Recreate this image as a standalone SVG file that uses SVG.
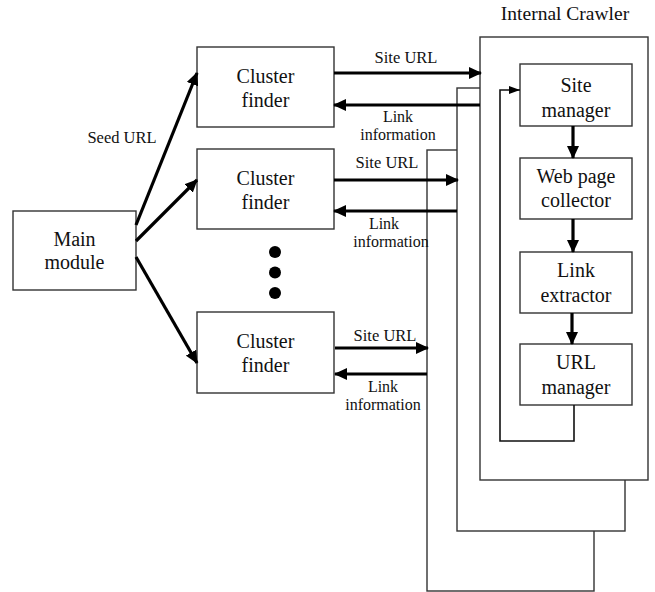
<svg xmlns="http://www.w3.org/2000/svg" width="655" height="592" viewBox="0 0 655 592">
  <style>
    .box { fill: #fff; stroke: #333; stroke-width: 1.4; }
    .frame { fill: none; stroke: #333; stroke-width: 1.4; }
    text { font-family: 'Liberation Serif', 'DejaVu Serif', 'Times New Roman', serif; fill: #111; text-anchor: middle; }
    .big { font-size: 20px; }
    .small { font-size: 16px; }
    .arrow { stroke: #000; stroke-width: 3.2; fill: none; }
    .thin { stroke: #111; stroke-width: 1.6; fill: none; }
  </style>
  <defs>
    <marker id="head" markerUnits="userSpaceOnUse" markerWidth="14" markerHeight="12" refX="12" refY="6" orient="auto">
      <path d="M0,0 L13,6 L0,12 Z" fill="#000"/>
    </marker>
    <marker id="headSmall" markerUnits="userSpaceOnUse" markerWidth="12" markerHeight="10" refX="11" refY="4" orient="auto">
      <path d="M0,0 L11,4 L0,8 Z" fill="#000"/>
    </marker>
  </defs>
  <rect width="655" height="592" fill="#fff"/>

  <!-- stacked crawler instances, back to front -->
  <g id="crawler-back">
    <rect class="frame" x="427" y="150" width="167" height="441" />
  </g>
  <g id="crawler-middle">
    <rect class="box" x="457" y="88" width="168" height="443" />
  </g>
  <g id="crawler-front">
    <rect class="box" x="480" y="37" width="168" height="443" />
    <text x="565" y="20" font-size="19.5">Internal Crawler</text>
  </g>

  <g id="main-module">
    <rect class="box" x="13" y="211" width="123" height="79" />
    <text class="big" x="74.5" y="246">Main</text>
    <text class="big" x="74.5" y="269">module</text>
  </g>

  <g id="cluster-finder-1">
    <rect class="box" x="197" y="47" width="137" height="80" />
    <text class="big" x="265.5" y="83">Cluster</text>
    <text class="big" x="265.5" y="107">finder</text>
  </g>
  <g id="cluster-finder-2">
    <rect class="box" x="197" y="149" width="137" height="80" />
    <text class="big" x="265.5" y="185">Cluster</text>
    <text class="big" x="265.5" y="209">finder</text>
  </g>
  <g id="cluster-finder-3">
    <rect class="box" x="197" y="312" width="137" height="81" />
    <text class="big" x="265.5" y="348">Cluster</text>
    <text class="big" x="265.5" y="372">finder</text>
  </g>

  <g id="ellipsis">
    <circle cx="275" cy="252" r="6" fill="#000"/>
    <circle cx="275" cy="272.5" r="6" fill="#000"/>
    <circle cx="275" cy="293" r="6" fill="#000"/>
  </g>

  <g id="site-manager">
    <rect class="box" x="520" y="64" width="112" height="62" />
    <text class="big" x="576" y="92">Site</text>
    <text class="big" x="576" y="117">manager</text>
  </g>
  <g id="web-page-collector">
    <rect class="box" x="520" y="158" width="112" height="61" />
    <text class="big" x="576" y="183">Web page</text>
    <text class="big" x="576" y="207">collector</text>
  </g>
  <g id="link-extractor">
    <rect class="box" x="520" y="252" width="112" height="61" />
    <text class="big" x="576" y="277">Link</text>
    <text class="big" x="576" y="302">extractor</text>
  </g>
  <g id="url-manager">
    <rect class="box" x="520" y="344" width="112" height="61" />
    <text class="big" x="576" y="369">URL</text>
    <text class="big" x="576" y="394">manager</text>
  </g>

  <g id="connectors">
    <!-- seed URLs from the main module -->
    <line class="arrow" x1="136" y1="225" x2="197" y2="73" marker-end="url(#head)"/>
    <line class="arrow" x1="136" y1="241" x2="197" y2="180" marker-end="url(#head)"/>
    <line class="arrow" x1="136" y1="257" x2="197" y2="363" marker-end="url(#head)"/>
    <text x="122" y="143" font-size="16.5">Seed URL</text>

    <!-- cluster finder 1 <-> front crawler -->
    <line class="arrow" x1="334" y1="73" x2="481" y2="73" marker-end="url(#head)"/>
    <line class="arrow" x1="480" y1="105" x2="334" y2="105" marker-end="url(#head)"/>
    <text x="406" y="63" font-size="16.5">Site URL</text>
    <text class="small" x="398" y="122">Link</text>
    <text class="small" x="398" y="140">information</text>

    <!-- cluster finder 2 <-> middle crawler -->
    <line class="arrow" x1="334" y1="180" x2="458" y2="180" marker-end="url(#head)"/>
    <line class="arrow" x1="457" y1="211" x2="334" y2="211" marker-end="url(#head)"/>
    <text x="387" y="168" font-size="16.5">Site URL</text>
    <text class="small" x="384" y="229">Link</text>
    <text class="small" x="391" y="247">information</text>

    <!-- cluster finder 3 <-> back crawler -->
    <line class="arrow" x1="335" y1="348" x2="428" y2="348" marker-end="url(#head)"/>
    <line class="arrow" x1="427" y1="374" x2="335" y2="374" marker-end="url(#head)"/>
    <text x="385" y="341" font-size="16.5">Site URL</text>
    <text class="small" x="383" y="392">Link</text>
    <text class="small" x="383" y="410">information</text>

    <!-- internal crawler pipeline -->
    <line class="arrow" x1="573" y1="126" x2="573" y2="158" marker-end="url(#head)"/>
    <line class="arrow" x1="573" y1="219" x2="573" y2="252" marker-end="url(#head)"/>
    <line class="arrow" x1="572" y1="313" x2="572" y2="344" marker-end="url(#head)"/>

    <!-- feedback loop from URL manager back to site manager -->
    <polyline class="thin" points="574,405 574,441 500,441 500,90 520,90" marker-end="url(#headSmall)"/>
  </g>
</svg>
